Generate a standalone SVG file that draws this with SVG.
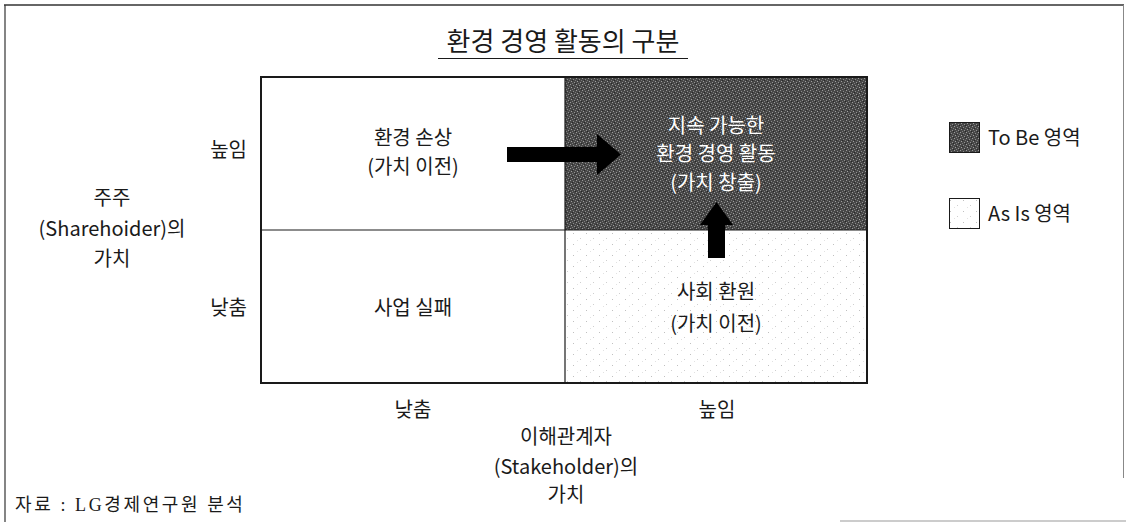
<svg xmlns="http://www.w3.org/2000/svg" width="1126" height="522" viewBox="0 0 1126 522">
  <style>
    .t { font-family: "Noto Sans CJK KR", "Noto Sans", sans-serif; font-size: 20px; fill: #1a1a1a; }
    .ttl { font-size: 26px; }
    .c { text-anchor: middle; }
    .r { text-anchor: end; }
    .w { fill: #ffffff; }
    .grid { stroke: #1a1a1a; fill: none; }
  </style>
  <defs>
    <pattern id="dark" width="6" height="6" patternUnits="userSpaceOnUse">
      <rect width="6" height="6" fill="#474747"/>
      <rect x="0" y="0" width="1" height="1" fill="#9a9a9a"/>
      <rect x="3" y="1" width="1" height="1" fill="#8c8c8c"/>
      <rect x="1" y="3" width="1" height="1" fill="#a0a0a0"/>
      <rect x="4" y="4" width="1" height="1" fill="#929292"/>
      <rect x="5" y="2" width="1" height="1" fill="#7a7a7a"/>
      <rect x="2" y="5" width="1" height="1" fill="#7e7e7e"/>
      <rect x="2" y="2" width="1" height="1" fill="#2a2a2a"/>
      <rect x="5" y="5" width="1" height="1" fill="#262626"/>
    </pattern>
    <pattern id="light" width="13" height="11" patternUnits="userSpaceOnUse">
      <rect width="13" height="11" fill="#ffffff"/>
      <rect x="1" y="2" width="1" height="1" fill="#c0c0c0"/>
      <rect x="8" y="7" width="1" height="1" fill="#cfcfcf"/>
      <rect x="5" y="9" width="1" height="1" fill="#e2e2e2"/>
    </pattern>
  </defs>

  <rect width="1126" height="522" fill="#ffffff"/>

  <g id="frame">
    <line x1="4" y1="5" x2="1124" y2="5" stroke="#333" stroke-width="1.6"/>
    <line x1="5" y1="5" x2="5" y2="522" stroke="#333" stroke-width="1.2"/>
    <line x1="1123.5" y1="5" x2="1123.5" y2="478" stroke="#888" stroke-width="1"/>
    <line x1="840" y1="521" x2="1126" y2="521" stroke="#999" stroke-width="1"/>
  </g>

  <g id="title">
    <text class="t ttl c" x="563" y="39" dominant-baseline="central">환경 경영 활동의 구분</text>
    <line x1="438" y1="58.5" x2="688" y2="58.5" stroke="#1a1a1a" stroke-width="1.2"/>
  </g>

  <g id="matrix">
    <rect id="q-tr-fill" x="565" y="77" width="302" height="153" fill="url(#dark)"/>
    <rect id="q-br-fill" x="565" y="230" width="302" height="153" fill="url(#light)"/>
    <rect class="grid" x="261" y="77" width="606" height="306" stroke-width="2"/>
    <line class="grid" x1="261" y1="230" x2="867" y2="230" stroke-width="1.2"/>
    <line class="grid" x1="565" y1="77" x2="565" y2="383" stroke-width="1.2"/>
  </g>

  <g id="node-tl">
    <text class="t c" x="413" y="136" dominant-baseline="central">환경 손상</text>
    <text class="t c" x="413" y="165" dominant-baseline="central">(가치 이전)</text>
  </g>
  <g id="node-tr">
    <text class="t c w" x="716" y="124" dominant-baseline="central">지속 가능한</text>
    <text class="t c w" x="716" y="152" dominant-baseline="central">환경 경영 활동</text>
    <text class="t c w" x="716" y="181" dominant-baseline="central">(가치 창출)</text>
  </g>
  <g id="node-bl">
    <text class="t c" x="413" y="306" dominant-baseline="central">사업 실패</text>
  </g>
  <g id="node-br">
    <text class="t c" x="716" y="290" dominant-baseline="central">사회 환원</text>
    <text class="t c" x="716" y="322" dominant-baseline="central">(가치 이전)</text>
  </g>

  <g id="connectors">
    <polygon points="507,147 597,147 597,134 621,154.5 597,175 597,162 507,162" fill="#000"/>
    <polygon points="708,258 708,225 700,225 716.5,202 733,225 725,225 725,258" fill="#000"/>
  </g>

  <g id="axis-y">
    <text class="t r" x="247" y="148" dominant-baseline="central">높임</text>
    <text class="t r" x="247" y="306" dominant-baseline="central">낮춤</text>
    <text class="t c" x="112" y="196" dominant-baseline="central">주주</text>
    <text class="t c" x="112" y="227" dominant-baseline="central">(Sharehoider)의</text>
    <text class="t c" x="112" y="257" dominant-baseline="central">가치</text>
  </g>

  <g id="axis-x">
    <text class="t c" x="413" y="408" dominant-baseline="central">낮춤</text>
    <text class="t c" x="717" y="408" dominant-baseline="central">높임</text>
    <text class="t c" x="566" y="435" dominant-baseline="central">이해관계자</text>
    <text class="t c" x="566" y="465" dominant-baseline="central">(Stakeholder)의</text>
    <text class="t c" x="566" y="493" dominant-baseline="central">가치</text>
  </g>

  <g id="legend">
    <g id="legend-tobe">
      <rect x="949.5" y="122.5" width="30" height="30" fill="url(#dark)" stroke="#1a1a1a" stroke-width="1"/>
      <text class="t" x="988" y="136" dominant-baseline="central">To Be 영역</text>
    </g>
    <g id="legend-asis">
      <rect x="949.5" y="198.5" width="30" height="30" fill="url(#light)" stroke="#1a1a1a" stroke-width="1"/>
      <text class="t" x="988" y="212" dominant-baseline="central">As Is 영역</text>
    </g>
  </g>

  <g id="source">
    <text x="15" y="505" dominant-baseline="central" font-family="Liberation Serif, Noto Sans CJK KR, serif" font-size="18" letter-spacing="2.6" fill="#1a1a1a">자료 : LG경제연구원 분석</text>
  </g>
</svg>
